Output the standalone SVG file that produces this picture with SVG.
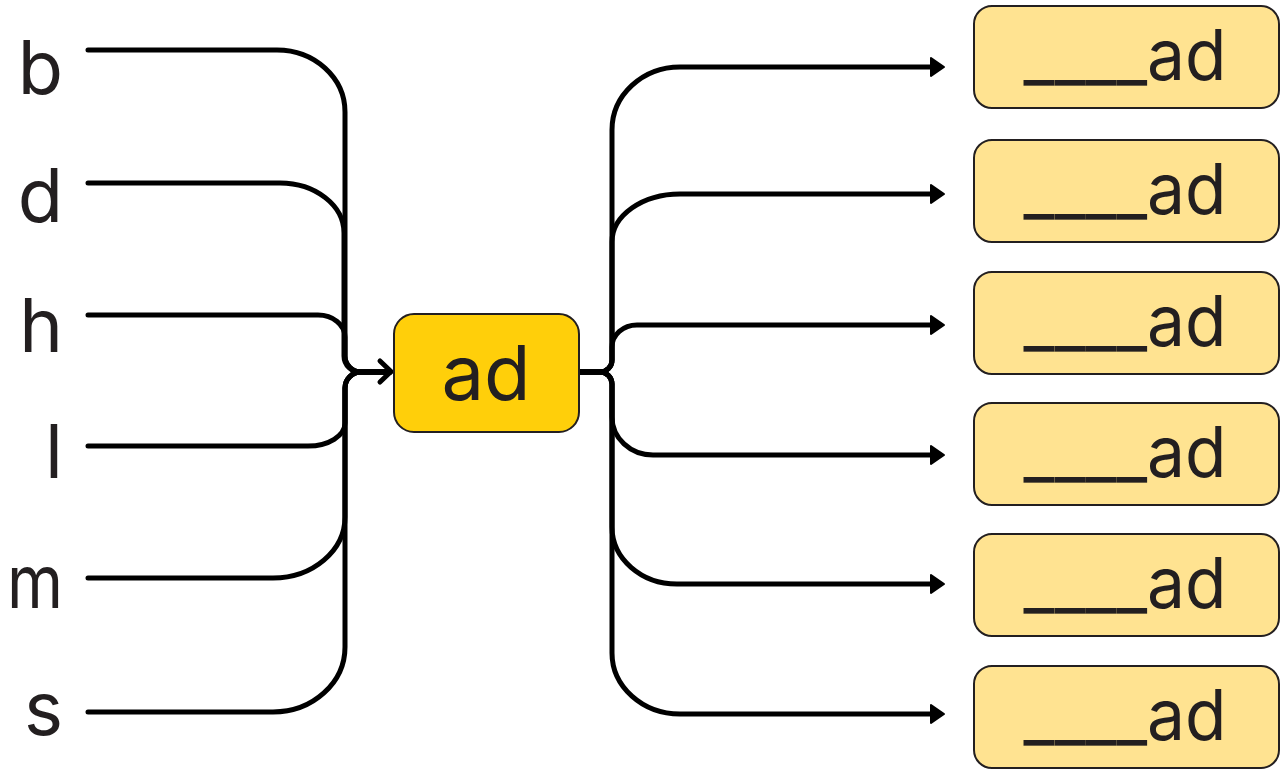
<svg xmlns="http://www.w3.org/2000/svg" width="1286" height="769" viewBox="0 0 1286 769">
<style>
.lbl{font-family:Inter,"Liberation Sans",sans-serif;fill:#231F20}
.conn path{fill:none;stroke:#000;stroke-width:5;stroke-linecap:round;stroke-linejoin:round}
.tgt rect{fill:#FFE391;stroke:#231F20;stroke-width:2}
</style>
<defs>
<marker id="tri" markerUnits="userSpaceOnUse" markerWidth="18" markerHeight="24" refX="1" refY="11" orient="auto" viewBox="0 0 18 24">
<path d="M1,2 L14,11 L1,20 Z" fill="#000" stroke="#000" stroke-width="2" stroke-linejoin="round"/>
</marker>
</defs>
<g id="letters">
<text class="lbl" x="63" y="94" font-size="74" text-anchor="end">b</text>
<text class="lbl" x="63" y="222" font-size="74" text-anchor="end">d</text>
<text class="lbl" x="63" y="352" font-size="74" text-anchor="end">h</text>
<text class="lbl" x="63" y="478" font-size="74" text-anchor="end">l</text>
<text class="lbl" x="63" y="608" font-size="74" text-anchor="end" textLength="56" lengthAdjust="spacingAndGlyphs">m</text>
<text class="lbl" x="63" y="735" font-size="74" text-anchor="end">s</text>
</g>
<g class="conn" id="connectors">
<path d="M88,50 H277 A68 62 0 0 1 345 112 V356 A16 16 0 0 0 361 372 H390"/>
<path d="M88,183 H280 A64 50 0 0 1 344 233 V356 A16 16 0 0 0 361 372 H390"/>
<path d="M88,315 H318 A27 22 0 0 1 345 337 V356 A16 16 0 0 0 361 372 H390"/>
<path d="M88,446 H308 A37 23 0 0 0 345 423 V388 A16 16 0 0 1 361 372 H390"/>
<path d="M88,578 H273 A72 61 0 0 0 345 517 V388 A16 16 0 0 1 361 372 H390"/>
<path d="M88,712 H273 A72 65 0 0 0 345 647 V388 A16 16 0 0 1 361 372 H390"/>
<path d="M380,361 L391,371.5 L380,382"/>
<path d="M580,372 H600 A12 12 0 0 0 612 360 V130 A68 63 0 0 1 680 67 H931" marker-end="url(#tri)"/>
<path d="M580,372 H600 A12 12 0 0 0 612 360 V242 A68 48 0 0 1 680 194 H931" marker-end="url(#tri)"/>
<path d="M580,372 H600 A12 12 0 0 0 612 360 V347 A25 22 0 0 1 637 325 H931" marker-end="url(#tri)"/>
<path d="M580,372 H600 A12 12 0 0 1 612 384 V417 A41 38 0 0 0 653 455 H931" marker-end="url(#tri)"/>
<path d="M580,372 H600 A12 12 0 0 1 612 384 V527 A65 57 0 0 0 677 584 H931" marker-end="url(#tri)"/>
<path d="M580,372 H600 A12 12 0 0 1 612 384 V653 A68 61 0 0 0 680 714 H931" marker-end="url(#tri)"/>
</g>
<g id="center">
<rect x="394" y="314" width="185" height="118" rx="20" fill="#FFCF0A" stroke="#231F20" stroke-width="2"/>
<text class="lbl" x="486" y="400" font-size="76" text-anchor="middle">ad</text>
</g>
<g class="tgt" id="t1"><rect x="974" y="6" width="305" height="102" rx="18"/><text class="lbl" x="1125" y="80" font-size="70" text-anchor="middle" textLength="203" lengthAdjust="spacingAndGlyphs">____ad</text></g>
<g class="tgt" id="t2"><rect x="974" y="140" width="305" height="102" rx="18"/><text class="lbl" x="1125" y="214" font-size="70" text-anchor="middle" textLength="203" lengthAdjust="spacingAndGlyphs">____ad</text></g>
<g class="tgt" id="t3"><rect x="974" y="272" width="305" height="102" rx="18"/><text class="lbl" x="1125" y="346" font-size="70" text-anchor="middle" textLength="203" lengthAdjust="spacingAndGlyphs">____ad</text></g>
<g class="tgt" id="t4"><rect x="974" y="403" width="305" height="102" rx="18"/><text class="lbl" x="1125" y="477" font-size="70" text-anchor="middle" textLength="203" lengthAdjust="spacingAndGlyphs">____ad</text></g>
<g class="tgt" id="t5"><rect x="974" y="534" width="305" height="102" rx="18"/><text class="lbl" x="1125" y="608" font-size="70" text-anchor="middle" textLength="203" lengthAdjust="spacingAndGlyphs">____ad</text></g>
<g class="tgt" id="t6"><rect x="974" y="666" width="305" height="102" rx="18"/><text class="lbl" x="1125" y="740" font-size="70" text-anchor="middle" textLength="203" lengthAdjust="spacingAndGlyphs">____ad</text></g>
</svg>
